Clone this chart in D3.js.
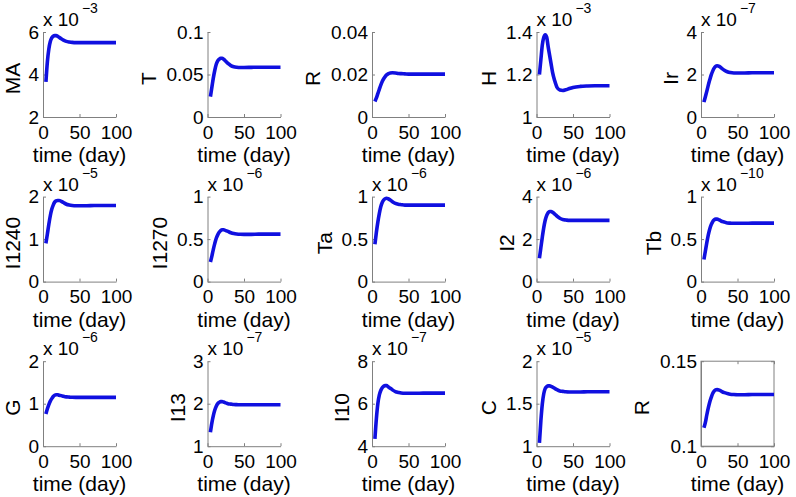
<!DOCTYPE html>
<html>
<head>
<meta charset="utf-8">
<script src="https://cdn.jsdelivr.net/npm/d3@7"></script>
<style>
  html, body { margin: 0; padding: 0; background: #fff; }
  svg { display: block; font-family: "Liberation Sans", Arial, sans-serif; }
</style>
</head>
<body>
<svg id="chart" width="796" height="497"></svg>
<script>
// ---------------- data ----------------
const labels = ["MA", "T", "R", "H", "Ir", "I1240", "I1270", "Ta", "I2", "Tb", "G", "I13", "I10", "C", "R"];
const exponents = [-3, null, null, -3, -7, -5, -6, -6, -6, -10, -6, -7, -7, -5, null];
const yTicks = [
  [2, 4, 6], [0, 0.05, 0.1], [0, 0.02, 0.04], [1, 1.2, 1.4], [0, 2, 4],
  [0, 1, 2], [0, 0.5, 1], [0, 0.5, 1], [0, 2, 4], [0, 0.5, 1],
  [0, 1, 2], [1, 2, 3], [4, 6, 8], [1, 1.5, 2], [0.1, 0.15]
];
const xTicks = [0, 50, 100];
const boxed = [false, false, false, false, false, false, false, false, false, false, false, false, false, false, true];
const times = [4, 6, 8, 10, 12, 14, 16, 18, 20, 22, 25, 28, 32, 36, 40, 45, 50, 60, 70, 80, 100];

const MA    = [3.65, 4.6, 5.2, 5.55, 5.72, 5.8, 5.83, 5.83, 5.8, 5.75, 5.68, 5.62, 5.56, 5.53, 5.51, 5.5, 5.5, 5.5, 5.5, 5.5, 5.5];
const T     = [0.024, 0.035, 0.046, 0.055, 0.062, 0.066, 0.068, 0.0692, 0.0692, 0.068, 0.0655, 0.063, 0.0605, 0.0592, 0.0586, 0.0583, 0.0583, 0.0584, 0.0585, 0.0585, 0.0585];
const R1    = [0.0073, 0.009, 0.011, 0.013, 0.015, 0.0167, 0.018, 0.019, 0.0198, 0.0203, 0.0207, 0.0208, 0.0207, 0.0205, 0.0204, 0.0203, 0.0202, 0.0202, 0.0202, 0.0202, 0.0202];
const H     = [1.2, 1.27, 1.34, 1.375, 1.387, 1.375, 1.33, 1.29, 1.25, 1.21, 1.17, 1.14, 1.127, 1.125, 1.128, 1.134, 1.139, 1.144, 1.146, 1.147, 1.147];
const Ir    = [0.7, 0.95, 1.22, 1.5, 1.75, 1.98, 2.16, 2.3, 2.38, 2.41, 2.38, 2.3, 2.2, 2.13, 2.09, 2.07, 2.07, 2.07, 2.08, 2.08, 2.08];
const I1240 = [0.9, 1.12, 1.35, 1.55, 1.7, 1.8, 1.87, 1.9, 1.91, 1.91, 1.89, 1.86, 1.82, 1.8, 1.79, 1.785, 1.785, 1.785, 1.79, 1.79, 1.79];
const I1270 = [0.23, 0.3, 0.38, 0.45, 0.51, 0.55, 0.58, 0.6, 0.61, 0.61, 0.6, 0.59, 0.575, 0.565, 0.56, 0.557, 0.556, 0.556, 0.558, 0.558, 0.558];
const Ta    = [0.44, 0.58, 0.7, 0.8, 0.88, 0.93, 0.96, 0.975, 0.98, 0.975, 0.96, 0.94, 0.92, 0.91, 0.905, 0.9, 0.9, 0.9, 0.9, 0.9, 0.9];
const I2    = [1.1, 1.6, 2.1, 2.55, 2.9, 3.12, 3.25, 3.3, 3.3, 3.26, 3.18, 3.08, 2.98, 2.92, 2.9, 2.88, 2.88, 2.88, 2.88, 2.88, 2.88];
const Tb    = [0.26, 0.36, 0.46, 0.55, 0.62, 0.67, 0.705, 0.725, 0.735, 0.735, 0.725, 0.71, 0.7, 0.69, 0.688, 0.686, 0.686, 0.686, 0.688, 0.688, 0.688];
const G     = [0.76, 0.88, 0.98, 1.06, 1.12, 1.17, 1.2, 1.21, 1.21, 1.2, 1.19, 1.175, 1.16, 1.155, 1.15, 1.148, 1.148, 1.148, 1.15, 1.15, 1.15];
const I13   = [1.33, 1.55, 1.72, 1.85, 1.94, 2.0, 2.03, 2.05, 2.05, 2.04, 2.02, 2.0, 1.99, 1.98, 1.978, 1.975, 1.975, 1.975, 1.977, 1.977, 1.977];
const I10   = [4.35, 5.3, 6.0, 6.4, 6.62, 6.75, 6.82, 6.85, 6.85, 6.8, 6.73, 6.65, 6.57, 6.53, 6.5, 6.49, 6.49, 6.49, 6.5, 6.5, 6.5];
const C     = [1.04, 1.3, 1.5, 1.62, 1.68, 1.7, 1.71, 1.71, 1.705, 1.695, 1.68, 1.665, 1.65, 1.645, 1.64, 1.638, 1.638, 1.638, 1.64, 1.64, 1.64];
const R2    = [0.1108, 0.114, 0.1185, 0.1225, 0.126, 0.1287, 0.131, 0.1324, 0.1331, 0.1333, 0.133, 0.1323, 0.1315, 0.131, 0.1306, 0.1304, 0.1303, 0.1303, 0.1304, 0.1304, 0.1304];
const series = [MA, T, R1, H, Ir, I1240, I1270, Ta, I2, Tb, G, I13, I10, C, R2];

// ---------------- layout ----------------
const svg = d3.select("#chart");
const left0 = 43, top0 = 32, colStep = 164.5, rowStep = 164.6;
const W = 73, Hh = 85;
const axisColor = "#808080";
const tickFont = 19, labelFont = 21;

series.forEach((vals, i) => {
  const col = i % 5, row = Math.floor(i / 5);
  const g = svg.append("g")
    .attr("transform", `translate(${left0 + col * colStep},${top0 + row * rowStep})`);

  const yt = yTicks[i];
  const x = d3.scaleLinear().domain([0, 100]).range([0, W]);
  const y = d3.scaleLinear().domain([yt[0], yt[yt.length - 1]]).range([Hh, 0]);

  if (boxed[i]) {
    g.append("rect").attr("width", W).attr("height", Hh)
      .attr("fill", "none").attr("stroke", axisColor).attr("stroke-width", 1);
    const gt = g.append("g").call(d3.axisTop(x).tickValues(xTicks).tickSize(-3).tickFormat(""));
    gt.select(".domain").remove();
    gt.selectAll("line").attr("stroke", axisColor);
    const gr = g.append("g").attr("transform", `translate(${W},0)`)
      .call(d3.axisRight(y).tickValues(yt).tickSize(-3).tickFormat(""));
    gr.select(".domain").remove();
    gr.selectAll("line").attr("stroke", axisColor);
  }

  // x axis
  const gx = g.append("g").attr("transform", `translate(0,${Hh})`)
    .call(d3.axisBottom(x).tickValues(xTicks).tickSizeInner(-3).tickSizeOuter(0).tickPadding(8));
  gx.select(".domain").attr("stroke", axisColor);
  gx.selectAll("line").attr("stroke", axisColor);
  gx.selectAll("text").attr("fill", "#000").style("font-size", tickFont + "px")
    .attr("dy", "0.72em");

  // y axis
  const gy = g.append("g")
    .call(d3.axisLeft(y).tickValues(yt).tickSizeInner(-3).tickSizeOuter(0).tickPadding(4)
      .tickFormat(d => String(d)));
  gy.select(".domain").attr("stroke", axisColor);
  gy.selectAll("line").attr("stroke", axisColor);
  gy.selectAll("text").attr("fill", "#000").style("font-size", tickFont + "px");

  let maxW = 0;
  gy.selectAll("text").each(function () { maxW = Math.max(maxW, this.getComputedTextLength()); });

  // y label
  g.append("text")
    .attr("transform", `translate(${-4 - maxW * 1.1 - 7},${Hh / 2 + 4}) rotate(-90)`)
    .attr("text-anchor", "middle")
    .style("font-size", labelFont + "px")
    .text(labels[i]);

  // x label
  g.append("text")
    .attr("x", W / 2).attr("y", Hh + 45)
    .attr("text-anchor", "middle")
    .style("font-size", labelFont + "px")
    .text("time (day)");

  // exponent
  if (exponents[i] !== null) {
    const t = g.append("text").attr("x", 0).attr("y", -6).style("font-size", tickFont + "px");
    t.append("tspan").text("x 10");
    t.append("tspan").attr("dx", 3).attr("dy", -13).style("font-size", "14px")
      .text("\u2212" + Math.abs(exponents[i]));
  }

  // line
  const line = d3.line()
    .x((d, k) => x(times[k]))
    .y(d => y(d))
    .curve(d3.curveMonotoneX);
  g.append("path").datum(vals)
    .attr("d", line)
    .attr("fill", "none")
    .attr("stroke", "#1010e0")
    .attr("stroke-width", 3.6)
    .attr("stroke-linejoin", "round")
    .attr("stroke-linecap", "butt");
});
</script>
</body>
</html>
